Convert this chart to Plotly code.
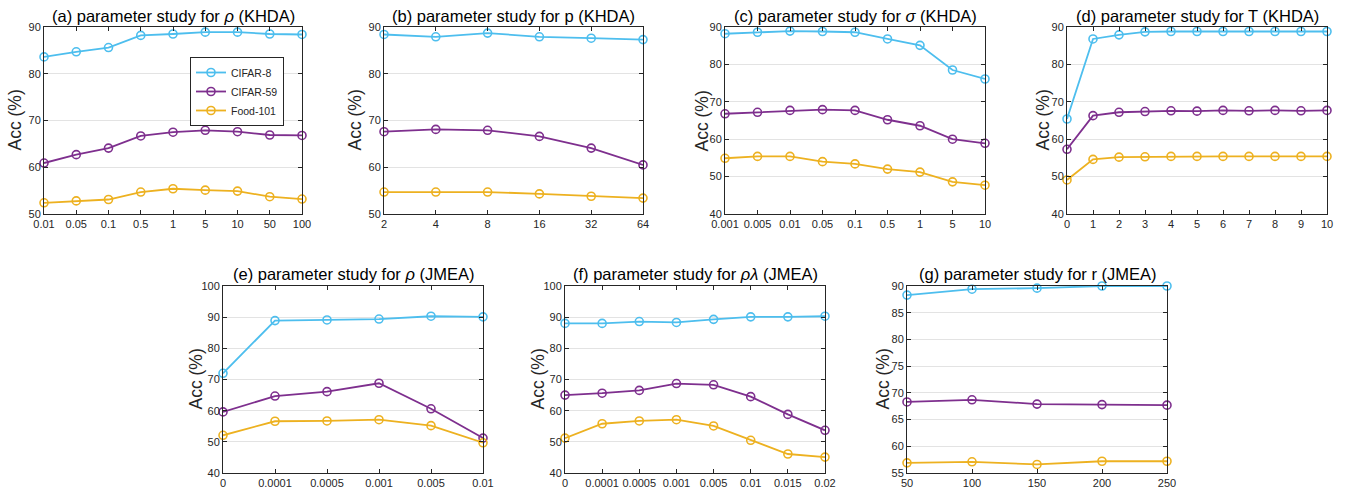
import plotly.graph_objects as go

W, H = 1345, 490

series_names = ["CIFAR-8", "CIFAR-59", "Food-101"]
series_colors = ["#4DBEEE", "#7E2F8E", "#EDB120"]

# (a) rho (KHDA)
a_x = ["0.01", "0.05", "0.1", "0.5", "1", "5", "10", "50", "100"]
a_cifar8 = [83.6, 84.7, 85.6, 88.2, 88.5, 88.9, 88.9, 88.5, 88.4]
a_cifar59 = [60.9, 62.7, 64.1, 66.7, 67.5, 67.9, 67.6, 66.9, 66.8]
a_food = [52.4, 52.8, 53.1, 54.7, 55.4, 55.1, 54.9, 53.7, 53.2]

# (b) p (KHDA)
b_x = ["2", "4", "8", "16", "32", "64"]
b_cifar8 = [88.4, 87.9, 88.7, 87.9, 87.6, 87.3]
b_cifar59 = [67.6, 68.1, 67.9, 66.6, 64.1, 60.5]
b_food = [54.7, 54.7, 54.7, 54.3, 53.8, 53.4]

# (c) sigma (KHDA)
c_x = ["0.001", "0.005", "0.01", "0.05", "0.1", "0.5", "1", "5", "10"]
c_cifar8 = [88.2, 88.6, 88.9, 88.8, 88.6, 86.8, 85.1, 78.5, 76.1]
c_cifar59 = [66.8, 67.2, 67.7, 67.9, 67.7, 65.2, 63.6, 60.0, 58.9]
c_food = [54.9, 55.4, 55.4, 54.0, 53.4, 52.0, 51.2, 48.6, 47.7]

# (d) T (KHDA)
d_x = [0, 1, 2, 3, 4, 5, 6, 7, 8, 9, 10]
d_cifar8 = [65.4, 86.8, 87.9, 88.7, 88.8, 88.8, 88.8, 88.8, 88.8, 88.8, 88.8]
d_cifar59 = [57.3, 66.3, 67.2, 67.4, 67.6, 67.5, 67.7, 67.6, 67.7, 67.6, 67.7]
d_food = [49.1, 54.6, 55.2, 55.3, 55.4, 55.4, 55.4, 55.4, 55.4, 55.4, 55.4]

# (e) rho (JMEA)
e_x = ["0", "0.0001", "0.0005", "0.001", "0.005", "0.01"]
e_cifar8 = [72.0, 88.9, 89.1, 89.4, 90.3, 90.1]
e_cifar59 = [59.6, 64.7, 66.1, 68.8, 60.6, 51.2]
e_food = [52.1, 56.6, 56.7, 57.1, 55.2, 49.7]

# (f) rho*lambda (JMEA)
f_x = ["0", "0.0001", "0.0005", "0.001", "0.005", "0.01", "0.015", "0.02"]
f_cifar8 = [88.0, 88.0, 88.6, 88.3, 89.3, 90.1, 90.1, 90.3]
f_cifar59 = [65.0, 65.6, 66.5, 68.7, 68.3, 64.5, 58.8, 53.7]
f_food = [51.2, 55.8, 56.7, 57.1, 55.1, 50.5, 46.1, 45.1]

# (g) r (JMEA)
g_x = [50, 100, 150, 200, 250]
g_cifar8 = [88.3, 89.4, 89.6, 90.0, 90.0]
g_cifar59 = [68.3, 68.7, 67.9, 67.8, 67.7]
g_food = [56.9, 57.1, 56.6, 57.2, 57.2]

titles = [
    "(a) parameter study for <i>ρ</i> (KHDA)",
    "(b) parameter study for p (KHDA)",
    "(c) parameter study for <i>σ</i> (KHDA)",
    "(d) parameter study for T (KHDA)",
    "(e) parameter study for <i>ρ</i> (JMEA)",
    "(f) parameter study for <i>ρλ</i> (JMEA)",
    "(g) parameter study for r (JMEA)",
]
y_label = "Acc (%)"

panels = [
    dict(x=a_x, ys=[a_cifar8, a_cifar59, a_food], yr=[50, 90], dy=10, cat=True),
    dict(x=b_x, ys=[b_cifar8, b_cifar59, b_food], yr=[50, 90], dy=10, cat=True),
    dict(x=c_x, ys=[c_cifar8, c_cifar59, c_food], yr=[40, 90], dy=10, cat=True),
    dict(x=d_x, ys=[d_cifar8, d_cifar59, d_food], yr=[40, 90], dy=10, cat=False, xr=[0, 10], dx=1),
    dict(x=e_x, ys=[e_cifar8, e_cifar59, e_food], yr=[40, 100], dy=10, cat=True),
    dict(x=f_x, ys=[f_cifar8, f_cifar59, f_food], yr=[40, 100], dy=10, cat=True),
    dict(x=g_x, ys=[g_cifar8, g_cifar59, g_food], yr=[55, 90], dy=5, cat=False, xr=[50, 250], dx=50),
]

# pixel boxes: left, right, top, bottom ; ylabel x ; title y
boxes = [
    (44, 302, 27, 214, 15, 16),
    (384, 643, 27, 214, 355, 16),
    (725, 985, 27, 214, 702, 16),
    (1067, 1327, 27, 214, 1043, 16),
    (223, 483, 286, 473, 195, 274),
    (565, 825, 286, 473, 537, 274),
    (907, 1167, 286, 473, 882, 274),
]

FONT = "Liberation Sans, Arial, Helvetica, sans-serif"
AX_COLOR = "#262626"

fig = go.Figure()
layout = dict(
    template="none",
    width=W, height=H, autosize=False,
    margin=dict(l=0, r=0, t=0, b=0, pad=0),
    paper_bgcolor="white", plot_bgcolor="white",
    font=dict(family=FONT, color=AX_COLOR, size=11),
    annotations=[],
)

for i, (p, box) in enumerate(zip(panels, boxes)):
    n = i + 1
    xa = "x" if n == 1 else f"x{n}"
    ya = "y" if n == 1 else f"y{n}"
    xkey = "xaxis" if n == 1 else f"xaxis{n}"
    ykey = "yaxis" if n == 1 else f"yaxis{n}"
    l, r, t, b, ylx, ty = box
    for s in range(3):
        fig.add_trace(go.Scatter(
            x=p["x"], y=p["ys"][s], xaxis=xa, yaxis=ya,
            mode="lines+markers", name=series_names[s],
            line=dict(color=series_colors[s], width=1.8),
            marker=dict(symbol="circle-open", size=8, color=series_colors[s],
                        line=dict(width=1.6, color=series_colors[s])),
            cliponaxis=False, showlegend=(n == 1), hoverinfo="skip",
        ))
    xcfg = dict(
        domain=[l / W, r / W], anchor=ya, automargin=False,
        showline=True, linecolor=AX_COLOR, linewidth=1, mirror="ticks",
        ticks="inside", ticklen=4, tickcolor=AX_COLOR, tickwidth=1,
        showgrid=False, zeroline=False,
        tickfont=dict(size=11, color=AX_COLOR, family=FONT),
        fixedrange=True,
    )
    if p["cat"]:
        xcfg.update(type="category", categoryorder="array", categoryarray=p["x"],
                    range=[0, len(p["x"]) - 1])
    else:
        xcfg.update(type="linear", range=p["xr"], dtick=p["dx"], tick0=p["xr"][0])
    ycfg = dict(
        domain=[1 - b / H, 1 - t / H], anchor=xa, automargin=False,
        range=p["yr"], dtick=p["dy"], tick0=p["yr"][0],
        showline=True, linecolor=AX_COLOR, linewidth=1, mirror="ticks",
        ticks="inside", ticklen=4, tickcolor=AX_COLOR, tickwidth=1,
        showgrid=True, gridcolor="#E3E3E3", gridwidth=1, zeroline=False,
        tickfont=dict(size=11, color=AX_COLOR, family=FONT),
        fixedrange=True,
    )
    layout[xkey] = xcfg
    layout[ykey] = ycfg
    layout["annotations"].append(dict(
        text=titles[i], x=(l + r) / 2 / W, y=1 - ty / H, xref="paper", yref="paper",
        xanchor="center", yanchor="middle", showarrow=False,
        font=dict(size=16.5, color="black", family=FONT),
    ))
    layout["annotations"].append(dict(
        text=y_label, x=ylx / W, y=1 - ((t + b) / 2) / H, xref="paper", yref="paper",
        xanchor="center", yanchor="middle", showarrow=False, textangle=-90,
        font=dict(size=17.5, color=AX_COLOR, family=FONT),
    ))

layout["legend"] = dict(
    x=190 / W, y=1 - 57 / H, xanchor="left", yanchor="top",
    bgcolor="white", bordercolor=AX_COLOR, borderwidth=1,
    font=dict(size=10.5, color=AX_COLOR, family=FONT),
    itemwidth=30, tracegroupgap=0,
)
fig.update_layout(**layout)
fig.write_html(
    "out.html",
    config={"displayModeBar": False, "staticPlot": True},
    post_script="document.body.style.margin='0';document.body.style.overflow='hidden';",
)
